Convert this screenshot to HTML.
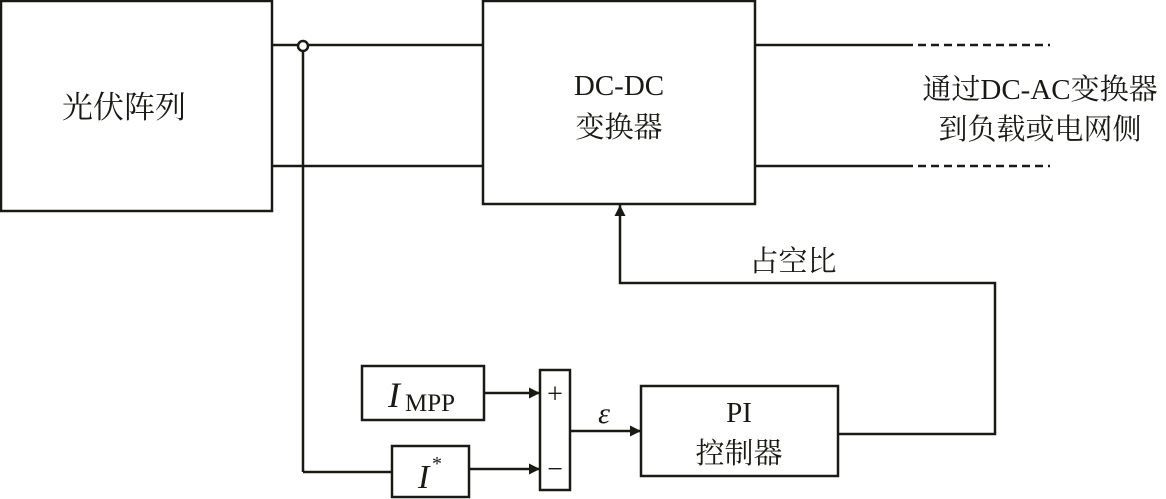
<!DOCTYPE html>
<html><head><meta charset="utf-8"><style>
html,body{margin:0;padding:0;background:#fff;}
svg{display:block;}
text{font-family:"Liberation Serif","Noto Serif CJK SC",serif;fill:#1a1a14;}
</style></head><body>
<svg width="1166" height="499" viewBox="0 0 1166 499" xmlns="http://www.w3.org/2000/svg">
<defs><marker id="a" viewBox="0 0 10 10" refX="10" refY="5" markerWidth="14" markerHeight="11" markerUnits="userSpaceOnUse" orient="auto"><path d="M0,0L10,5L0,10z" fill="#1a1a14"/></marker></defs>
<g stroke="#1a1a14" stroke-width="2.5" fill="none">
<rect x="1" y="1" width="271" height="210"/>
<rect x="483" y="1" width="272" height="203"/>
<line x1="272" y1="45" x2="483" y2="45"/>
<line x1="272" y1="166" x2="483" y2="166"/>
<circle cx="303" cy="46" r="5" fill="#fff"/>
<line x1="303" y1="51" x2="303" y2="472"/>
<line x1="303" y1="472" x2="392" y2="472"/>
<line x1="755" y1="45" x2="905" y2="45"/>
<line x1="905" y1="45" x2="1050" y2="45" stroke-dasharray="8,5"/>
<line x1="755" y1="166" x2="905" y2="166"/>
<line x1="905" y1="166" x2="1050" y2="166" stroke-dasharray="8,5"/>
<rect x="362" y="366" width="122" height="54"/>
<rect x="392" y="446" width="77" height="51"/>
<rect x="540" y="370" width="30" height="120"/>
<rect x="641" y="386" width="197" height="90"/>
<line x1="484" y1="393" x2="540" y2="393" marker-end="url(#a)"/>
<line x1="469" y1="469" x2="540" y2="469" marker-end="url(#a)"/>
<line x1="570" y1="431" x2="641" y2="431" marker-end="url(#a)"/>
<polyline points="838,434 995,434 995,283 620,283 620,205" marker-end="url(#a)"/>
</g>
<text x="124" y="118" font-size="31" text-anchor="middle">光伏阵列</text>
<text x="619" y="95" font-size="29" text-anchor="middle">DC-DC</text>
<text x="619" y="137" font-size="29" text-anchor="middle">变换器</text>
<text x="1040" y="99" font-size="29" text-anchor="middle">通过DC-AC变换器</text>
<text x="1040" y="139" font-size="29" text-anchor="middle">到负载或电网侧</text>
<text x="793" y="271" font-size="29" text-anchor="middle">占空比</text>
<text x="739" y="422" font-size="29" text-anchor="middle">PI</text>
<text x="739" y="463" font-size="29" text-anchor="middle">控制器</text>
<text x="388" y="407" font-size="36" font-style="italic">I</text>
<text x="405" y="411" font-size="25">MPP</text>
<text x="418" y="488" font-size="34" font-style="italic">I</text>
<text x="432" y="470" font-size="20">*</text>
<text x="555" y="403" font-size="28" text-anchor="middle">+</text>
<text x="555" y="478" font-size="28" text-anchor="middle">−</text>
<text x="604" y="423" font-size="30" font-style="italic" text-anchor="middle">ε</text>
</svg>
</body></html>
